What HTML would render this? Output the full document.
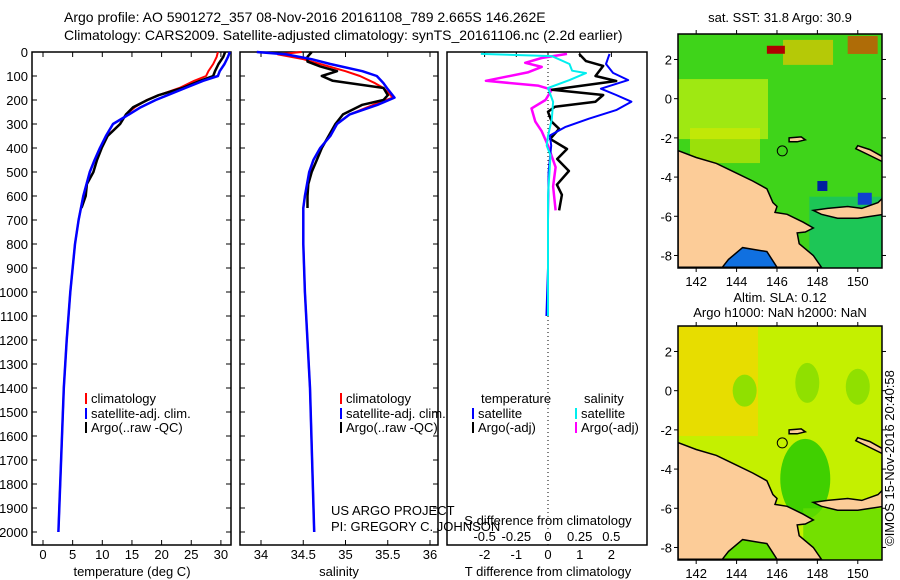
<!DOCTYPE html>
<html><head><meta charset="utf-8"><style>
body{margin:0;background:#fff;}
svg{display:block;font-family:"Liberation Sans",sans-serif;}
</style></head><body>
<svg id="c" width="900" height="580" viewBox="0 0 900 580" xmlns="http://www.w3.org/2000/svg">
<text x="64" y="22" font-size="14">Argo profile: AO 5901272_357 08-Nov-2016 20161108_789 2.665S 146.262E</text>
<text x="64" y="40" font-size="14">Climatology: CARS2009. Satellite-adjusted climatology: synTS_20161106.nc (2.2d earlier)</text>
<g id="g"></g>
</svg>
<script>
// ---- data ----
const tDepth = [0,20,50,80,100,120,150,180,200,230,260,300,350,400,450,500,600,700,800,1000,1200,1400,1600,1800,2000];
const tClim  = [29.5,29.3,28.7,27.9,27.5,25.5,23,19.5,17.5,15.5,14,13,10.8,9.6,8.7,7.9,6.8,6.0,5.4,4.6,4.0,3.5,3.2,2.9,2.6];
const tSat   = [31.5,31.2,30.6,29.8,29.5,27,24,21,19,16.5,14.5,11.8,10.6,9.6,8.7,7.9,6.8,6.0,5.4,4.6,4.0,3.5,3.2,2.9,2.6];
const tArgoDepth=[0,20,50,80,100,120,150,180,200,230,260,300,350,400,450,500,550,600,650];
const tArgo  = [30.7,30.4,29.6,29.0,28.7,26.5,23.5,19.5,17.6,15.2,14,13,10.9,9.9,9.1,8.5,7.4,7.2,6.5];
const sDepth = [0,10,30,50,80,100,130,150,190,220,260,300,350,400,450,500,600,650,800,1000,1400,2000];
const sClim  = [34.48,34.2,34.5,34.7,35.0,35.17,35.35,35.45,35.56,35.33,35.05,34.9,34.82,34.7,34.62,34.58,34.52,34.5,34.5,34.52,34.58,34.63];
const sSat   = [33.95,34.3,34.6,34.82,35.2,35.37,35.45,35.49,35.58,35.38,35.05,34.9,34.82,34.7,34.62,34.57,34.52,34.5,34.5,34.52,34.58,34.63];
const sArgoDepth=[0,20,40,60,80,100,120,150,180,200,220,260,300,350,400,450,500,550,600,650];
const sArgo  = [34.6,34.55,34.55,34.7,34.9,34.72,34.85,35.45,35.5,35.45,35.2,34.97,34.88,34.8,34.72,34.66,34.6,34.56,34.55,34.55];
const dTSatDepth=[8,50,87,117,153,179,207,242,278,313,348,390,500,700,900,1100];
const dTSat=[1.94,1.83,2.05,2.53,1.67,2.15,2.63,2.15,1.29,0.54,0.06,0.1,0.02,0,0,-0.05];
const dTArgoDepth=[8,38,58,100,121,157,179,207,228,249,291,320,362,404,446,496,553,595,660];
const dTArgo=[0.98,1.2,1.74,1.5,2.15,0.13,1.74,1.5,0.22,0,0.12,0.35,0.07,0.6,0.29,0.66,0.28,0.44,0.35];
const dSArgoDepth=[8,25,45,62,85,120,140,157,200,235,290,330,390,480,560,660];
const dSArgo=[0.15,-0.05,-0.18,-0.05,-0.16,-0.49,-0.08,0.03,-0.02,-0.13,-0.1,-0.05,0,0.06,0.04,0.06];
const dSSatDepth=[8,17,50,78,88,117,150,208,280,350,390,430,600,800,1100];
const dSSat=[-0.53,0.03,0.17,0.19,0.3,0.17,0,0.04,0.03,0,-0.01,0.02,0,0,0];
const depthTicks=[0,100,200,300,400,500,600,700,800,900,1000,1100,1200,1300,1400,1500,1600,1700,1800,1900,2000];
const tTicks=[0,5,10,15,20,25,30];
const sTicks=[34,34.5,35,35.5,36];
const dTTicks=[-2,-1,0,1,2];
const dSTicks=[-0.5,-0.25,0,0.25,0.5];
const lonTicks=[142,144,146,148,150];
const latTicks=[2,0,-2,-4,-6,-8];

const NS="http://www.w3.org/2000/svg";
const G=document.getElementById('g');
function el(tag,attrs,parent){const e=document.createElementNS(NS,tag);for(const k in attrs)e.setAttribute(k,attrs[k]);(parent||G).appendChild(e);return e;}
function txt(x,y,s,attrs,parent){const e=el('text',Object.assign({x:x,y:y,'font-size':13},attrs||{}),parent);e.textContent=s;return e;}

const yD=d=>52+d*0.24;
const xT=v=>43+v*5.93;
const xS=v=>261+(v-34)*84.5;
const xDT=v=>548+v*31.7;
const xDS=v=>548+v*126.7;

function line(xs,ds,xf,color,w,name){
  const p=xs.map((v,i)=>(i?'L':'M')+xf(v).toFixed(1)+' '+yD(ds[i]).toFixed(1)).join(' ');
  const e=el('path',{d:p,fill:'none',stroke:color,'stroke-width':w,'stroke-linejoin':'round'});
  
  
}
function box(x0,x1,name){
  const r=el('rect',{x:x0,y:52,width:x1-x0,height:493,fill:'none',stroke:'#000','stroke-width':1.5});
  
  
}
// panel 1
box(32,231,'temperature-panel');
depthTicks.forEach(d=>{
  el('line',{x1:32,x2:37,y1:yD(d),y2:yD(d),stroke:'#000'});
  el('line',{x1:226,x2:231,y1:yD(d),y2:yD(d),stroke:'#000'});
  const t=txt(28,yD(d)+5,String(d),{'text-anchor':'end'});
  
  
});
tTicks.forEach(v=>{
  el('line',{x1:xT(v),x2:xT(v),y1:545,y2:540,stroke:'#000'});
  el('line',{x1:xT(v),x2:xT(v),y1:52,y2:57,stroke:'#000'});
  const t=txt(xT(v),559,String(v),{'text-anchor':'middle'});
  
  
});
line(tClim,tDepth,xT,'#f00',2,'temp-climatology-line');
line(tArgo,tArgoDepth,xT,'#000',2.5,'temp-argo-line');
line(tSat,tDepth,xT,'#00f',2.5,'temp-satellite-line');
txt(132,576,'temperature (deg C)',{'text-anchor':'middle'});

// panel 2
box(240,438,'salinity-panel');
depthTicks.forEach(d=>{
  el('line',{x1:240,x2:245,y1:yD(d),y2:yD(d),stroke:'#000'});
  el('line',{x1:433,x2:438,y1:yD(d),y2:yD(d),stroke:'#000'});
});
sTicks.forEach(v=>{
  el('line',{x1:xS(v),x2:xS(v),y1:545,y2:540,stroke:'#000'});
  el('line',{x1:xS(v),x2:xS(v),y1:52,y2:57,stroke:'#000'});
  const t=txt(xS(v),559,String(v),{'text-anchor':'middle'});
  
  
});
line(sClim,sDepth,xS,'#f00',2,'sal-climatology-line');
line(sArgo,sArgoDepth,xS,'#000',2.5,'sal-argo-line');
line(sSat,sDepth,xS,'#00f',2.5,'sal-satellite-line');
txt(339,576,'salinity',{'text-anchor':'middle'});
txt(331,515,'US ARGO PROJECT');
txt(331,531,'PI: GREGORY C. JOHNSON');

// legends
function leg(x,y,c,s){el('rect',{x:x,y:y-10,width:2,height:11,fill:c});txt(x+6,y,s);}
leg(85,403,'#f00','climatology');leg(85,418,'#00f','satellite-adj. clim.');leg(85,432,'#000','Argo(..raw -QC)');
leg(340,403,'#f00','climatology');leg(340,418,'#00f','satellite-adj. clim.');leg(340,432,'#000','Argo(..raw -QC)');

// panel 3
box(447,647,'difference-panel');
el('line',{x1:548,x2:548,y1:52,y2:545,stroke:'#000','stroke-dasharray':'1,3'});
dTTicks.forEach(v=>{
  el('line',{x1:xDT(v),x2:xDT(v),y1:52,y2:57,stroke:'#000'});
  const t=txt(xDT(v),559,String(v),{'text-anchor':'middle'});
  
  
});
dSTicks.forEach(v=>{
  const t=txt(xDS(v),541,String(v),{'text-anchor':'middle'});
  
  
});
line(dSArgo,dSArgoDepth,xDS,'#f0f',2.5,'s-diff-argo-line');
line(dTArgo,dTArgoDepth,xDT,'#000',2.5,'t-diff-argo-line');
line(dTSat,dTSatDepth,xDT,'#00f',2,'t-diff-satellite-line');
line(dSSat,dSSatDepth,xDS,'#0ee',2,'s-diff-satellite-line');
txt(548,525,'S difference from climatology',{'text-anchor':'middle'});
txt(548,576,'T difference from climatology',{'text-anchor':'middle'});
txt(481,403,'temperature');txt(584,403,'salinity');
leg(472,418,'#00f','satellite');leg(472,432,'#000','Argo(-adj)');
leg(575,418,'#0ee','satellite');leg(575,432,'#f0f','Argo(-adj)');

// maps
const land=[[141.1,-2.65],[142,-3.0],[143,-3.3],[144,-3.8],[144.8,-4.2],[145.5,-4.6],[145.8,-5.3],[146,-5.5],[145.9,-5.8],[146.5,-5.9],[147.3,-6.3],[147.8,-6.6],[147.4,-6.8],[147.0,-6.85],[147.1,-7.4],[147.8,-8.0],[148.2,-8.6],[141.1,-8.6]];
const gulf=[[143.3,-8.6],[143.6,-8.2],[144.3,-7.6],[145.5,-7.8],[146,-8.6]];
const newBritain=[[147.8,-5.7],[148.5,-5.6],[149.5,-5.5],[150.2,-5.6],[151,-5.3],[151.3,-5.0],[151.3,-5.9],[150,-6.1],[149,-6.1],[148.2,-5.9]];
const manus=[[146.6,-2.0],[147.2,-1.95],[147.4,-2.1],[147,-2.2],[146.6,-2.2]];
const newIreland=[[150.0,-2.4],[150.6,-2.6],[151.3,-3.0],[151.3,-3.25],[150.5,-2.85],[149.9,-2.55]];
function map(top,name,kind){
  const g=el('g',{});
  
  
  const X=lo=>678+(lo-141.1)*20.2, Y=la=>top+(3.3-la)*19.6;
  const W=204,H=234;
  const id='cl'+top;
  const cp=el('clipPath',{id:id},g);el('rect',{x:678,y:top,width:W,height:H},cp);
  const inner=el('g',{'clip-path':'url(#'+id+')'},g);
  const poly=(pts,fill,stroke)=>el('polygon',{points:pts.map(p=>X(p[0]).toFixed(1)+','+Y(p[1]).toFixed(1)).join(' '),fill:fill,stroke:stroke||'#000','stroke-width':1.5},inner);
  if(kind==='sst'){
    el('rect',{x:678,y:top,width:W,height:H,fill:'#3fd41a'},inner);
    el('rect',{x:678,y:Y(1),width:90,height:60,fill:'#b8ec10',opacity:0.8},inner);
    el('rect',{x:690,y:Y(-1.5),width:70,height:35,fill:'#d8e800',opacity:0.6},inner);
    el('rect',{x:X(146.3),y:Y(3),width:50,height:25,fill:'#e8c400',opacity:0.7},inner);
    el('rect',{x:X(149.5),y:Y(3.2),width:30,height:18,fill:'#e04000',opacity:0.7},inner);
    el('rect',{x:X(145.5),y:Y(2.7),width:18,height:8,fill:'#b00000'},inner);
    el('rect',{x:X(147.6),y:Y(-5),width:100,height:80,fill:'#10c070',opacity:0.7},inner);
    el('rect',{x:X(150),y:Y(-4.8),width:14,height:12,fill:'#1040d0'},inner);
    el('rect',{x:X(148),y:Y(-4.2),width:10,height:10,fill:'#0020a0'},inner);
  } else {
    el('rect',{x:678,y:top,width:W,height:H,fill:'#c4f000'},inner);
    el('rect',{x:678,y:top,width:80,height:110,fill:'#f0d800',opacity:0.8},inner);
    el('ellipse',{cx:X(144.4),cy:Y(0),rx:12,ry:16,fill:'#90e000'},inner);
    el('ellipse',{cx:X(147.5),cy:Y(0.4),rx:12,ry:20,fill:'#90e000'},inner);
    el('ellipse',{cx:X(150),cy:Y(0.2),rx:12,ry:18,fill:'#90e000'},inner);
    el('ellipse',{cx:X(147.4),cy:Y(-4.5),rx:25,ry:40,fill:'#40d000'},inner);
    el('rect',{x:X(147.3),y:Y(-6),width:90,height:70,fill:'#60dc00',opacity:0.8},inner);
  }
  poly(land,'#fccc98');
  poly(gulf,kind==='sst'?'#1070e0':'#60dc00');
  poly(newBritain,'#fccc98');poly(manus,'#fccc98');poly(newIreland,'#fccc98');
  el('circle',{cx:X(146.262),cy:Y(-2.665),r:5,fill:'none',stroke:'#000','stroke-width':1},g);
  el('rect',{x:678,y:top,width:W,height:H,fill:'none',stroke:'#000','stroke-width':1.5},g);
  lonTicks.forEach(v=>{el('line',{x1:X(v),x2:X(v),y1:top+H,y2:top+H+4,stroke:'#000'},g);el('line',{x1:X(v),x2:X(v),y1:top,y2:top-4,stroke:'#000'},g);txt(X(v),top+H+18,String(v),{'text-anchor':'middle'},g);});
  latTicks.forEach(v=>{el('line',{x1:674,x2:678,y1:Y(v),y2:Y(v),stroke:'#000'},g);el('line',{x1:882,x2:886,y1:Y(v),y2:Y(v),stroke:'#000'},g);txt(672,Y(v)+5,String(v),{'text-anchor':'end'},g);});
}
map(34,'sst-map','sst');
map(326,'sla-map','sla');
txt(780,22,'sat. SST: 31.8 Argo: 30.9',{'text-anchor':'middle'});
txt(780,302,'Altim. SLA: 0.12',{'text-anchor':'middle'});
txt(780,317,'Argo h1000: NaN h2000: NaN',{'text-anchor':'middle'});
txt(0,0,'©IMOS 15-Nov-2016 20:40:58',{'text-anchor':'middle',transform:'translate(894,458) rotate(-90)'});
</script>
</body></html>
